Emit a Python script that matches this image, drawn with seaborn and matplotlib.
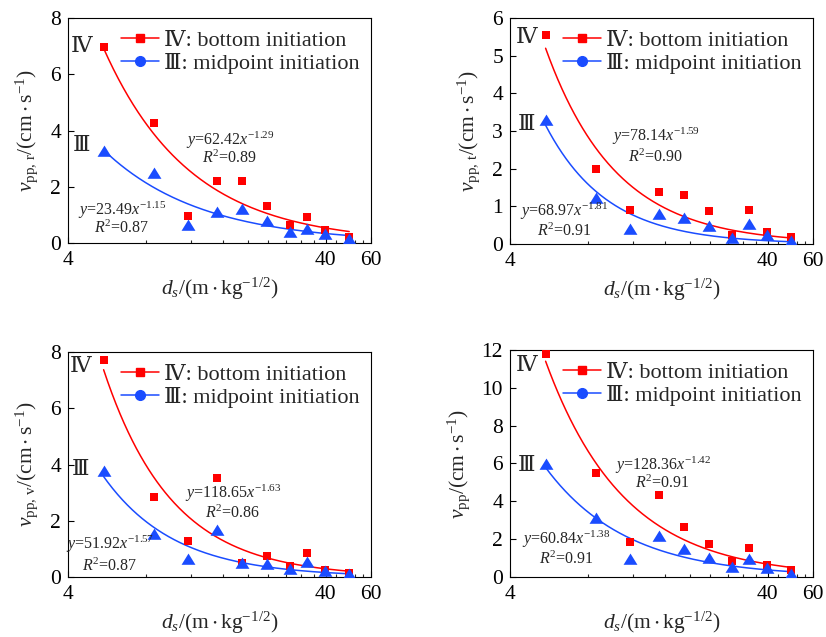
import numpy as np
import matplotlib
matplotlib.use("Agg")
import matplotlib.pyplot as plt
from matplotlib.lines import Line2D
from matplotlib.ticker import FixedLocator, FixedFormatter, NullFormatter
import seaborn as sns

# Scaled distance (shared by all panels)
ds = [5.5, 8.6, 11.7, 15.1, 19.0, 23.6, 29.1, 34.0, 39.8, 49.4]

# Peak particle velocity, radial component
vr_bottom = [6.98, 4.28, 0.97, 2.20, 2.20, 1.33, 0.65, 0.93, 0.48, 0.20]
vr_mid = [3.25, 2.45, 0.62, 1.07, 1.18, 0.73, 0.36, 0.47, 0.28, 0.12]
# Tangential component
vt_bottom = [5.54, 1.99, 0.91, 1.37, 1.31, 0.88, 0.23, 0.91, 0.33, 0.19]
vt_mid = [3.26, 1.19, 0.38, 0.78, 0.65, 0.44, 0.12, 0.50, 0.22, 0.04]
# Vertical component
vv_bottom = [7.72, 2.86, 1.28, 3.52, 0.50, 0.76, 0.40, 0.85, 0.26, 0.14]
vv_mid = [3.75, 1.50, 0.59, 1.65, 0.46, 0.41, 0.26, 0.50, 0.17, 0.06]
# Resultant
vp_bottom = [11.78, 5.49, 1.87, 4.35, 2.62, 1.76, 0.83, 1.55, 0.65, 0.35]
vp_mid = [5.90, 3.08, 0.92, 2.10, 1.44, 0.95, 0.48, 0.88, 0.42, 0.12]

# Power-law fits y = K * x^alpha : (K, alpha, R^2)
fit_r = [(62.42, -1.29, 0.89), (23.49, -1.15, 0.87)]
fit_t = [(78.14, -1.59, 0.90), (68.97, -1.81, 0.91)]
fit_v = [(118.65, -1.63, 0.86), (51.92, -1.57, 0.87)]
fit_p = [(128.36, -1.42, 0.91), (60.84, -1.38, 0.91)]

ylabels = [r"$v_{\mathrm{pp,\,r}}/(\mathrm{cm\cdot s^{-1}})$",
           r"$v_{\mathrm{pp,\,t}}/(\mathrm{cm\cdot s^{-1}})$",
           r"$v_{\mathrm{pp,\,v}}/(\mathrm{cm\cdot s^{-1}})$",
           r"$v_{\mathrm{pp}}/(\mathrm{cm\cdot s^{-1}})$"]
xlabel = r"$d_{s}/(\mathrm{m\cdot kg^{-1/2}})$"
legend_labels = ["Ⅳ: bottom initiation", "Ⅲ: midpoint initiation"]
x_ticks = [4, 40, 60]
x_minor = [8, 12, 16, 20, 24, 28, 32, 36, 44, 48, 52, 56]

RED = "#FF0000"
BLUE = "#1A4CFF"

sns.set_theme(style="ticks")
plt.rcParams["font.family"] = ["Liberation Serif", "DejaVu Serif"]
plt.rcParams["mathtext.fontset"] = "custom"
plt.rcParams["mathtext.rm"] = "Liberation Serif"
plt.rcParams["mathtext.it"] = "Liberation Serif:italic"
plt.rcParams["mathtext.fallback"] = "stix"
plt.rcParams["axes.linewidth"] = 0.8
plt.rcParams["axes.edgecolor"] = "black"

fig = plt.figure(figsize=(8.26, 6.37), dpi=100)

panels = [
    dict(rect=[0.0823, 0.6185, 0.3668, 0.3532], b=vr_bottom, m=vr_mid, fit=fit_r,
         ylim=(0, 8), yticks=[0, 2, 4, 6, 8], yl=ylabels[0],
         eq_b=(0.535, 0.455, 0.375), eq_m=(0.178, 0.143, 0.064),
         roman=(0.046, 0.871, 0.427)),
    dict(rect=[0.6174, 0.6170, 0.3668, 0.3548], b=vt_bottom, m=vt_mid, fit=fit_t,
         ylim=(0, 6), yticks=[0, 1, 2, 3, 4, 5, 6], yl=ylabels[1],
         eq_b=(0.481, 0.475, 0.382), eq_m=(0.18, 0.146, 0.056),
         roman=(0.054, 0.91, 0.526)),
    dict(rect=[0.0823, 0.0942, 0.3668, 0.3532], b=vv_bottom, m=vv_mid, fit=fit_v,
         ylim=(0, 8), yticks=[0, 2, 4, 6, 8], yl=ylabels[2],
         eq_b=(0.545, 0.37, 0.283), eq_m=(0.138, 0.143, 0.048),
         roman=(0.042, 0.933, 0.475)),
    dict(rect=[0.6174, 0.0942, 0.3668, 0.3564], b=vp_bottom, m=vp_mid, fit=fit_p,
         ylim=(0, 12), yticks=[0, 2, 4, 6, 8, 10, 12], yl=ylabels[3],
         eq_b=(0.505, 0.492, 0.413), eq_m=(0.185, 0.168, 0.078),
         roman=(0.054, 0.926, 0.486)),
]

tri = [(-1.0, -0.62), (1.0, -0.62), (0.0, 1.0)]
xs = np.geomspace(ds[0], ds[-1], 300)

for p in panels:
    ax = fig.add_axes(p["rect"])
    (kb, ab, rb), (km, am, rm) = p["fit"]

    sns.lineplot(x=xs, y=kb * xs ** ab, color=RED, lw=1.1, ax=ax, legend=False)
    sns.lineplot(x=xs, y=km * xs ** am, color=BLUE, lw=1.1, ax=ax, legend=False)
    sns.scatterplot(x=ds, y=p["b"], marker="s", s=28, color=RED, edgecolor=RED,
                    linewidth=0, ax=ax, zorder=3, legend=False)
    sns.scatterplot(x=ds, y=p["m"], marker=tri, s=100, color=BLUE, edgecolor=BLUE,
                    linewidth=0, ax=ax, zorder=3, legend=False)

    ax.set_xscale("log")
    ax.set_xlim(4, 60)
    ax.set_ylim(*p["ylim"])
    ax.xaxis.set_major_locator(FixedLocator(x_ticks))
    ax.xaxis.set_major_formatter(FixedFormatter([str(t) for t in x_ticks]))
    ax.xaxis.set_minor_locator(FixedLocator(x_minor))
    ax.xaxis.set_minor_formatter(NullFormatter())
    ax.set_yticks(p["yticks"])
    ax.tick_params(axis="both", which="major", direction="in", length=4,
                   width=0.8, labelsize=15.5, colors="black")
    ax.tick_params(axis="x", which="minor", direction="in", length=2.5, width=0.8)
    ax.tick_params(axis="x", which="major", pad=6)
    ax.tick_params(axis="y", which="major", pad=5)
    for sp in ax.spines.values():
        sp.set_visible(True)
        sp.set_color("black")
        sp.set_linewidth(0.8)

    ax.set_xlabel(xlabel, fontsize=15.5, labelpad=4)
    ax.set_ylabel(p["yl"], fontsize=15.5, labelpad=7)

    ex, ey, ry = p["eq_b"]
    ax.text(ex, ey, rf"$y$=${kb:.2f}$$x^{{{ab:.2f}}}$", transform=ax.transAxes,
            ha="center", va="center", fontsize=11.5)
    ax.text(ex, ry, rf"$R^{{2}}$=${rb:.2f}$", transform=ax.transAxes,
            ha="center", va="center", fontsize=11.5)
    ex, ey, ry = p["eq_m"]
    ax.text(ex, ey, rf"$y$=${km:.2f}$$x^{{{am:.2f}}}$", transform=ax.transAxes,
            ha="center", va="center", fontsize=11.5)
    ax.text(ex, ry, rf"$R^{{2}}$=${rm:.2f}$", transform=ax.transAxes,
            ha="center", va="center", fontsize=11.5)

    rx, r4, r3 = p["roman"]
    ax.text(rx, r4, "Ⅳ", transform=ax.transAxes, ha="center", va="center", fontsize=16)
    ax.text(rx, r3, "Ⅲ", transform=ax.transAxes, ha="center", va="center", fontsize=16)

    handles = [Line2D([], [], color=RED, lw=1.1, marker="s", ms=6, mec=RED),
               Line2D([], [], color=BLUE, lw=1.1, marker="o", ms=7, mec=BLUE)]
    ax.legend(handles, legend_labels, loc="upper right", frameon=False,
              fontsize=16, handlelength=1.7, handletextpad=0.25,
              labelspacing=0.1, borderaxespad=0.1, bbox_to_anchor=(1.0, 0.995))

fig.savefig("out.png", dpi=100)
